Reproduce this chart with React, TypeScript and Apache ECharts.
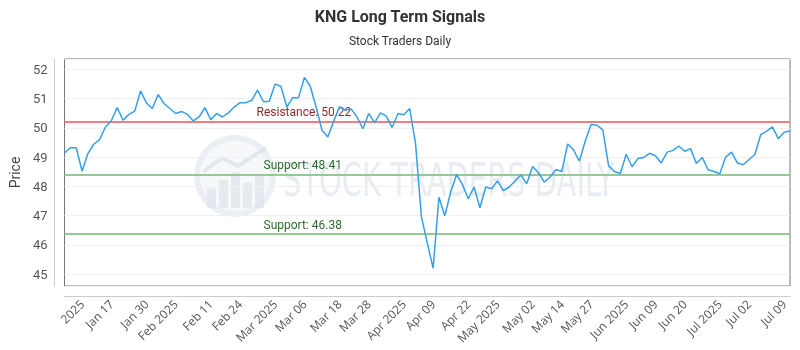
import React, { useEffect, useRef } from "react";
import * as echarts from "echarts";

const chartTitle = "KNG Long Term Signals";
const chartSubtitle = "Stock Traders Daily";
const yAxisName = "Price";

const prices = [
  49.14, 49.32, 49.32, 48.52, 49.12, 49.44, 49.6, 50.03, 50.24, 50.69,
  50.26, 50.46, 50.57, 51.26, 50.85, 50.66, 51.14, 50.83, 50.66, 50.49,
  50.56, 50.46, 50.24, 50.37, 50.69, 50.28, 50.49, 50.37, 50.51, 50.71,
  50.86, 50.86, 50.94, 51.29, 50.89, 50.91, 51.5, 51.41, 50.71, 51.03,
  51.03, 51.72, 51.42, 50.72, 49.92, 49.69, 50.22, 50.72, 50.6, 50.64,
  50.37, 49.97, 50.49, 50.17, 50.51, 50.4, 50.01, 50.49, 50.45, 50.66,
  49.46, 46.97, 46.07, 45.21, 47.63, 47.0, 47.8, 48.41, 48.07, 47.58,
  47.98, 47.27, 47.98, 47.92, 48.19, 47.86, 47.98, 48.18, 48.39, 48.09,
  48.68, 48.47, 48.15, 48.32, 48.58, 48.51, 49.45, 49.25, 48.86, 49.55,
  50.11, 50.09, 49.93, 48.7, 48.51, 48.44, 49.1, 48.67, 48.95, 48.99,
  49.13, 49.05, 48.8, 49.17, 49.23, 49.38, 49.2, 49.29, 48.78, 48.99,
  48.57, 48.51, 48.43, 49.0, 49.17, 48.8, 48.74, 48.92, 49.09, 49.77,
  49.89, 50.03, 49.63, 49.85, 49.89,
];

const tickIndices = [3, 8, 14, 19, 25, 30, 36, 41, 47, 52, 58, 63, 69, 74, 80, 85, 90, 96, 101, 106, 112, 117, 123];
const tickLabels = [
  "2025", "Jan 17", "Jan 30", "Feb 2025", "Feb 11", "Feb 24", "Mar 2025", "Mar 06",
  "Mar 18", "Mar 28", "Apr 2025", "Apr 09", "Apr 22", "May 2025", "May 02", "May 14",
  "May 27", "Jun 2025", "Jun 09", "Jun 20", "Jul 2025", "Jul 02", "Jul 09",
];

const resistanceLevels = [50.22];
const supportLevels = [48.41, 46.38];

const FONT = "Roboto, 'Noto Sans', sans-serif";

export default function App() {
  const ref = useRef<HTMLDivElement>(null);

  useEffect(() => {
    if (!ref.current) return;
    const chart = echarts.init(ref.current, null, { renderer: "svg" });
    const categories = prices.map((_, i) => String(i));
    const labelMap: Record<number, string> = {};
    tickIndices.forEach((idx, k) => (labelMap[idx] = tickLabels[k]));

    const markData: any[] = [
      ...resistanceLevels.map((v) => ({
        yAxis: v,
        lineStyle: { color: "#ef7f7f", width: 2, type: "solid" },
        label: {
          show: true,
          formatter: "Resistance: " + v.toFixed(2),
          position: "insideStartTop",
          distance: [192, 3],
          color: "#8e2a2a",
          fontSize: 12,
          fontFamily: FONT,
        },
      })),
      ...supportLevels.map((v) => ({
        yAxis: v,
        lineStyle: { color: "#8fcc8f", width: 2, type: "solid" },
        label: {
          show: true,
          formatter: "Support: " + v.toFixed(2),
          position: "insideStartTop",
          distance: [199, 3],
          color: "#2f6b2f",
          fontSize: 12,
          fontFamily: FONT,
        },
      })),
    ];

    const wm = "#dde4ec";
    chart.setOption({
      animation: false,
      title: {
        text: chartTitle,
        subtext: chartSubtitle,
        left: "center",
        top: 3,
        itemGap: 11,
        textStyle: { fontSize: 16, fontWeight: "bold", color: "#333", fontFamily: FONT },
        subtextStyle: { fontSize: 12, color: "#333", fontFamily: FONT },
      },
      graphic: [
        {
          type: "group",
          silent: true,
          z: 0,
          children: [
            { type: "ring", shape: { cx: 235, cy: 176, r: 41, r0: 35 }, style: { fill: wm, opacity: 0.6 } },
            { type: "circle", shape: { cx: 235, cy: 176, r: 35 }, style: { fill: "#eef2f6", opacity: 0.5 } },
            { type: "rect", shape: { x: 207, y: 188, width: 9, height: 20 }, style: { fill: wm, opacity: 0.7 } },
            { type: "rect", shape: { x: 219, y: 180, width: 9, height: 28 }, style: { fill: wm, opacity: 0.7 } },
            { type: "rect", shape: { x: 231, y: 172, width: 9, height: 36 }, style: { fill: wm, opacity: 0.7 } },
            { type: "rect", shape: { x: 243, y: 183, width: 9, height: 25 }, style: { fill: wm, opacity: 0.7 } },
            { type: "rect", shape: { x: 255, y: 176, width: 9, height: 32 }, style: { fill: wm, opacity: 0.7 } },
            {
              type: "polyline",
              shape: { points: [[203, 172], [222, 158], [238, 166], [266, 148]] },
              style: { stroke: wm, lineWidth: 4, fill: "none", opacity: 0.8 },
            },
            {
              type: "text",
              x: 283,
              y: 180,
              scaleX: 0.7,
              style: {
                text: "STOCK TRADERS DAILY",
                fontSize: 46,
                fontFamily: "'Liberation Sans Narrow', 'DejaVu Sans Condensed', sans-serif",
                fill: "#e4e9ef",
                textVerticalAlign: "middle",
                opacity: 0.8,
              },
            },
          ],
        },
      ],
      grid: {
        left: 60,
        right: 10,
        top: 59,
        bottom: 64,
        show: true,
        borderColor: "#777",
        borderWidth: 1,
        backgroundColor: "transparent",
      },
      xAxis: {
        type: "category",
        data: categories,
        boundaryGap: false,
        offset: 10,
        axisLine: { show: true, lineStyle: { color: "#ccc", width: 1 } },
        axisTick: { show: false },
        splitLine: { show: false },
        axisLabel: {
          interval: (i: number) => labelMap[i] !== undefined,
          formatter: (_v: string, i: number) => labelMap[i] ?? "",
          rotate: 45,
          margin: 6,
          color: "#555",
          fontSize: 12,
          fontFamily: "'Open Sans', sans-serif",
        },
      },
      yAxis: {
        type: "value",
        min: 44.6,
        max: 52.35,
        minInterval: 1,
        maxInterval: 1,
        offset: 10,
        name: yAxisName,
        nameLocation: "middle",
        nameGap: 28,
        nameTextStyle: { fontSize: 14, color: "#444", fontFamily: FONT },
        axisLine: { show: true, lineStyle: { color: "#ccc", width: 1 } },
        axisTick: { show: false },
        axisLabel: {
          showMinLabel: false,
          showMaxLabel: false,
          margin: 7,
          color: "#555",
          fontSize: 13,
          fontFamily: FONT,
        },
        splitLine: { show: true, lineStyle: { color: "#f0f0f0", width: 1 } },
      },
      series: [
        {
          type: "line",
          data: prices,
          symbol: "none",
          smooth: false,
          z: 5,
          lineStyle: { color: "#35a0e8", width: 1.5 },
          markLine: {
            silent: true,
            symbol: ["none", "none"],
            animation: false,
            data: markData,
          },
        },
      ],
    });
    return () => chart.dispose();
  }, []);

  return (
    <div
      ref={ref}
      style={{ position: "fixed", left: 0, top: 0, width: 800, height: 350 }}
    />
  );
}
